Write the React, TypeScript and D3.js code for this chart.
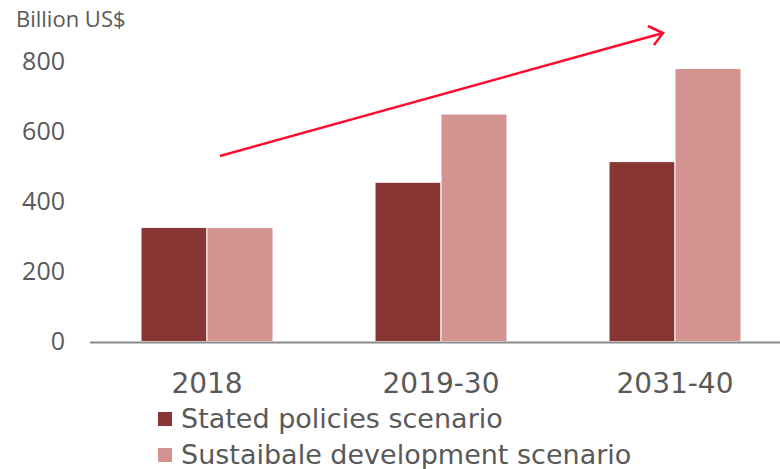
import React, { useEffect, useRef } from 'react';
import * as d3 from 'd3';

const periods = ['2018', '2019-30', '2031-40'];
const seriesNames = ['Stated policies scenario', 'Sustaibale development scenario'];
const statedPolicies = [326, 455, 514];
const sustainableDev = [326, 650, 780];
const yTicks = [0, 200, 400, 600, 800];
const seriesColors = ['#873634', '#d39391'];

const App = () => {
    const width = 780;
    const height = 469;
    const xAxisRef = useRef<SVGGElement>(null);
    const yAxisRef = useRef<SVGGElement>(null);

    const yScale = d3.scaleLinear()
        .domain([0, 800])
        .range([341.5, 61.5]);

    const xScale = d3.scaleBand<string>()
        .domain(periods)
        .range([90, 792])
        .paddingInner(0.436)
        .paddingOuter(0.218);

    const subScale = d3.scaleBand<string>()
        .domain(seriesNames)
        .range([0, xScale.bandwidth()]);

    const rows = periods.map((p, i) => ({ period: p, values: [statedPolicies[i], sustainableDev[i]] }));

    useEffect(() => {
        const xAxis = d3.axisBottom(xScale).tickSize(0).tickPadding(31);
        const xg = d3.select(xAxisRef.current).call(xAxis);
        xg.select('.domain').remove();
        xg.selectAll('text')
            .attr('fill', '#595959')
            .style('font-family', '"DejaVu Sans", Verdana, sans-serif')
            .style('font-size', '28px');

        const yAxis = d3.axisLeft(yScale).tickValues(yTicks).tickSize(0).tickPadding(0);
        const yg = d3.select(yAxisRef.current).call(yAxis);
        yg.select('.domain').remove();
        yg.selectAll('text')
            .attr('fill', '#595959')
            .style('font-family', '"Open Sans", sans-serif')
            .style('font-size', '25px');
    }, []);

    return (
        <svg width={width} height={height} style={{ position: 'absolute', left: 0, top: 0, background: '#fff' }}>
            <text x={16} y={27} fill="#595959" style={{ fontFamily: '"Open Sans", sans-serif', fontSize: 22 }}>Billion US$</text>

            {rows.map(r => (
                <g key={r.period} transform={`translate(${xScale(r.period)},0)`}>
                    {r.values.map((v, j) => (
                        <rect key={j}
                            x={subScale(seriesNames[j])}
                            y={yScale(v)}
                            width={subScale.bandwidth()}
                            height={yScale(0) - yScale(v)}
                            fill={seriesColors[j]}
                            stroke="#fff"
                            strokeWidth={1}
                        />
                    ))}
                </g>
            ))}

            <line x1={90} x2={780} y1={yScale(0) + 1} y2={yScale(0) + 1} stroke="#898989" strokeWidth={2} />
            <g ref={xAxisRef} transform={`translate(0,${yScale(0) + 0.5})`} />
            <g ref={yAxisRef} transform="translate(65,0)" />

            {/* trend arrow */}
            <line x1={220} y1={156} x2={663} y2={33} stroke="#ff0a2d" strokeWidth={2.5} />
            <polyline points="648,26 663,33 654,45" fill="none" stroke="#ff0a2d" strokeWidth={2.5} />

            <g style={{ fontFamily: '"DejaVu Sans", Verdana, sans-serif', fontSize: 27 }}>
                {seriesNames.map((name, i) => (
                    <g key={name} transform={`translate(158,${412 + i * 36})`}>
                        <rect width={14} height={14} fill={seriesColors[i]} />
                        <text x={23} y={16} fill="#595959">{name}</text>
                    </g>
                ))}
            </g>
        </svg>
    );
};

export default App;
